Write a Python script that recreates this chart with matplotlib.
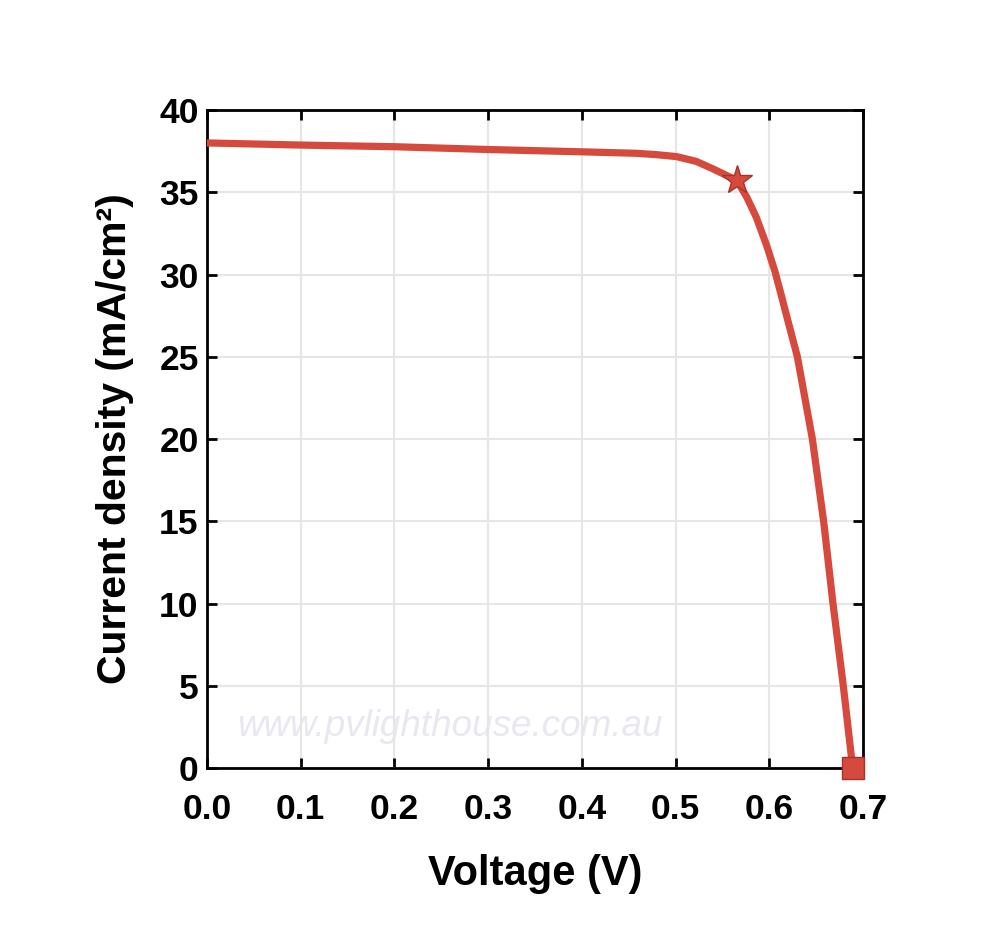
import matplotlib
matplotlib.use("Agg")
import matplotlib.pyplot as plt

# values
napiecie = [0.0, 0.1, 0.2, 0.3, 0.4, 0.458, 0.479, 0.501, 0.522, 0.540, 0.5655, 0.576,
            0.586, 0.597, 0.606, 0.613, 0.618, 0.630, 0.646, 0.658, 0.668, 0.679, 0.689]
prad = [38.0, 37.87, 37.77, 37.6, 37.46, 37.37, 37.29, 37.17, 36.88, 36.42, 35.72, 34.7,
        33.5, 31.8, 30.2, 28.7, 27.6, 25.0, 20.0, 15.0, 10.0, 5.0, 0.0]
mpp_v, mpp_j = 0.5655, 35.72
voc_v, voc_j = 0.689, 0.0
x_ticks = [0.0, 0.1, 0.2, 0.3, 0.4, 0.5, 0.6, 0.7]
y_ticks = [0, 5, 10, 15, 20, 25, 30, 35, 40]

plt.rcParams['font.family'] = ['Liberation Sans', 'DejaVu Sans']
plt.rcParams['font.weight'] = 'bold'

kolor = '#d64a3e'

fig = plt.figure(figsize=(9.82, 9.34), dpi=100)
ax = fig.add_axes([0.2108, 0.1777, 0.668, 0.7045])

ax.plot(napiecie, prad, color=kolor, lw=5.2, solid_capstyle='round', solid_joinstyle='round', zorder=3)
ax.plot(mpp_v, mpp_j, marker='*', ms=22, color=kolor, mec='#a83228', mew=1, zorder=4)
ax.plot(voc_v, voc_j, marker='s', ms=16, color=kolor, mec='#a83228', mew=1, zorder=4, clip_on=False)

ax.text(0.259, 2.5, "www.pvlighthouse.com.au", fontsize=26.5, style='italic', fontweight='normal',
        color='#e9e7ef', ha='center', va='center', zorder=1)

ax.set_xlim(0, 0.7)
ax.set_ylim(0, 40)
ax.set_xticks(x_ticks)
ax.set_xticklabels([f"{t:.1f}" for t in x_ticks])
ax.set_yticks(y_ticks)
ax.grid(True, color='#e6e6e6', lw=1.5, zorder=0)
ax.tick_params(direction='in', length=7, width=2, top=True, right=True, labelsize=25.5, colors='black')
ax.tick_params(axis='x', pad=18)
ax.tick_params(axis='y', pad=6)
for s in ax.spines.values():
    s.set_linewidth(2)

ax.set_xlabel("Voltage (V)", fontsize=30, fontweight='bold', labelpad=20)
ax.set_ylabel("Current density (mA/cm²)", fontsize=29.5, fontweight='bold', labelpad=18)

fig.savefig("out.png", dpi=100)
